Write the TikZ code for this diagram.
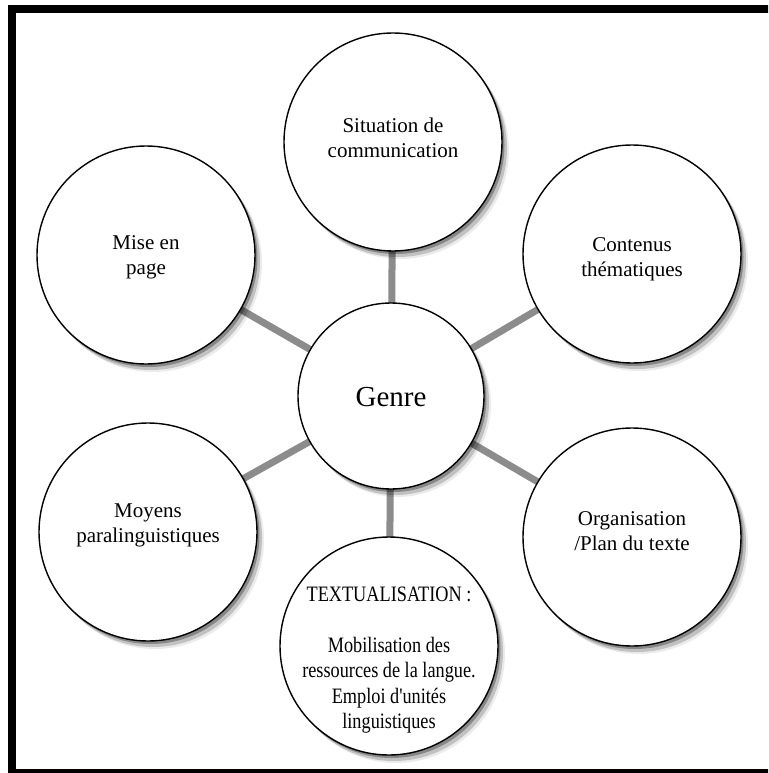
\documentclass[tikz,border=0pt]{standalone}
\usepackage{fontspec}
\setmainfont{Liberation Serif}
\newfontfamily\condfont[FakeStretch=0.83]{Liberation Serif}
\usetikzlibrary{shadows,backgrounds}
\begin{document}
\begin{tikzpicture}[x=1pt,y=-1pt,
  bubble/.style={circle,draw=black,line width=1.4pt,fill=white,minimum size=218pt,inner sep=0pt,
    drop shadow={shadow xshift=2.5pt,shadow yshift=-3pt,opacity=0.3,fill=black},
    drop shadow={shadow xshift=5pt,shadow yshift=-6pt,opacity=0.18,fill=black},
    drop shadow={shadow xshift=7pt,shadow yshift=-8pt,opacity=0.08,fill=black}},
  hub/.style={bubble,minimum size=186pt},
  txt/.style={inner sep=0pt,align=center,font=\fontsize{21}{25}\selectfont},
  link/.style={line width=7pt,draw=black!45}]
\useasboundingbox (0,0) rectangle (768,773);
\node[bubble] (top) at (393,142) {};
\node[bubble] (lt) at (146,255) {};
\node[bubble] (rt) at (632,254) {};
\node[bubble] (lb) at (148,532) {};
\node[bubble] (rb) at (632,537) {};
\node[bubble] (bot) at (389,646) {};
\node[hub] (genre) at (391,396) {};
\node[txt] (top-t) at (393,138) {Situation de\\communication};
\node[txt] (lt-t) at (146,257) {Mise en\\page};
\node[txt] (rt-t) at (632,259) {Contenus\\th\'ematiques};
\node[txt] (lb-t) at (148,525) {Moyens\\paralinguistiques};
\node[txt] (rb-t) at (632,531) {Organisation\\/Plan du texte};
\node[txt,font=\condfont\fontsize{22}{25.5}\selectfont] (bot-t) at (389,660)
  {TEXTUALISATION :\\[25.5pt]Mobilisation des\\ressources de la langue.\\Emploi d'unit\'es\\linguistiques};
\node[txt,font=\fontsize{29}{34}\selectfont] (genre-t) at (391,397) {Genre};
\begin{scope}[on background layer]
\draw[link] (genre.center) -- (top.center);
\draw[link] (genre.center) -- (lt.center);
\draw[link] (genre.center) -- (rt.center);
\draw[link] (genre.center) -- (lb.center);
\draw[link] (genre.center) -- (rb.center);
\draw[link] (genre.center) -- (bot.center);
\end{scope}
\begin{scope}
\clip (0,0) rectangle (768,773);
\draw[line width=8pt] (12,9) rectangle (790,773);
\end{scope}
\end{tikzpicture}
\end{document}
